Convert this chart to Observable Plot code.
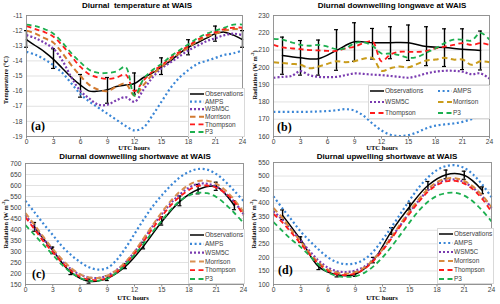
<!DOCTYPE html>
<html><head><meta charset="utf-8">
<script src="https://cdn.jsdelivr.net/npm/d3@7"></script>
<script src="https://cdn.jsdelivr.net/npm/@observablehq/plot@0.6"></script>
<style>
body{margin:0;background:#fff;}
#wrap{position:relative;width:500px;height:304px;overflow:hidden;font-family:"Liberation Sans",Arial,sans-serif;background:#fff;}
.panel{position:absolute;width:250px;height:152px;}
.title{position:absolute;font-weight:bold;font-size:8px;line-height:10px;white-space:nowrap;transform:translateX(-50%);color:#000}
.xl{position:absolute;font-family:"Liberation Serif",serif;font-weight:bold;font-size:6.6px;line-height:6px;transform:translateX(-50%);white-space:nowrap;color:#000}
.yl{position:absolute;font-family:"Liberation Serif",serif;font-weight:bold;font-size:6.3px;line-height:7px;white-space:nowrap;transform:translate(-50%,-50%) rotate(-90deg);color:#000}
.yl sup{font-size:4.5px;vertical-align:top;line-height:4px}
.letter{position:absolute;font-family:"Liberation Serif",serif;font-weight:bold;font-size:12px;line-height:12px;color:#000}
.leg{position:absolute;}
</style>
</head><body>
<div id="wrap"></div>
<script>
// ---------- shared ----------
const hours = [0,1,2,3,4,5,6,7,8,9,10,11,12,13,14,15,16,17,18,19,20,21,22,23,24];
const oddHours = [1,3,5,7,9,11,13,15,17,19,21,23];
const threeHours = [0,3,6,9,12,15,18,21,24];
const xTicks = [0,3,6,9,12,15,18,21,24];
const seriesNames = ["Observations","AMPS","WSM5C","Morrison","Thompson","P3"];

// ---------- (a) temperature ----------
const tempTicks = [-19,-18,-17,-16,-15,-14,-13,-12,-11];
const tempObs = [-12.6,-13.0,-13.4,-13.9,-14.5,-15.1,-15.6,-16.0,-16.0,-15.9,-15.7,-15.6,-15.5,-15.1,-14.8,-14.4,-14.0,-13.5,-13.1,-12.8,-12.5,-12.2,-12.1,-12.3,-12.6];
const tempBarHi = [-12.0,-13.2,-14.9,-15.1,-14.8,-13.8,-12.6,-11.7,-12.0];
const tempBarLo = [-13.1,-14.5,-16.4,-16.8,-16.2,-14.9,-13.6,-12.7,-13.1];
const tempAMPS = [-13.4,-13.6,-13.9,-14.3,-14.8,-15.5,-16.2,-16.7,-17.1,-17.5,-17.9,-18.3,-18.6,-18.4,-17.6,-16.7,-15.8,-15.1,-14.6,-14.2,-14.0,-13.8,-13.6,-13.5,-13.3];
const tempWSM5C = [-12.3,-12.5,-12.8,-13.2,-14.0,-15.1,-16.0,-16.5,-16.9,-16.9,-16.6,-16.4,-16.7,-15.9,-15.1,-14.5,-14.1,-13.7,-13.3,-13.0,-12.7,-12.5,-12.3,-12.2,-12.3];
const tempMorrison = [-12.0,-12.2,-12.5,-12.8,-13.5,-14.3,-15.0,-15.6,-15.9,-16.0,-15.7,-15.5,-16.3,-15.6,-14.9,-14.4,-13.9,-13.5,-13.1,-12.7,-12.4,-12.2,-12.0,-11.9,-11.9];
const tempThompson = [-11.7,-11.9,-12.1,-12.4,-13.0,-13.7,-14.4,-14.9,-15.1,-15.2,-15.1,-14.9,-16.0,-15.3,-14.7,-14.3,-13.8,-13.4,-13.0,-12.6,-12.3,-12.1,-11.9,-11.8,-11.8];
const tempP3 = [-11.6,-11.7,-11.9,-12.2,-12.8,-13.5,-14.1,-14.6,-14.8,-14.8,-14.7,-14.4,-16.3,-15.2,-14.6,-14.2,-13.7,-13.3,-12.9,-12.5,-12.2,-12.0,-11.8,-11.6,-11.6];

// ---------- (b) downwelling longwave ----------
const lwTicks = [160,170,180,190,200,210,220,230];
const lwObs = [206.8,205.5,205.0,209.8,214.8,214.2,214.3,214.2,212.0,211.5,210.5,209.8];
const lwBarHi = [217.5,215.5,215.8,221.8,225.8,222.5,223.5,224.5,223.5,222.3,222.3,221.0];
const lwBarLo = [196.0,195.5,195.5,198.3,203.5,204.8,205.0,204.0,201.0,200.5,198.7,198.5];
const lwAMPS = [174.2,174.2,174.2,174.3,174.3,174.5,174.7,175.2,175.8,175.0,172.0,167.5,163.5,161.0,160.3,160.8,162.5,164.8,166.3,167.0,167.5,168.5,170.0,172.0,174.0];
const lwWSM5C = [194.0,194.5,195.0,197.8,195.5,194.5,194.3,194.5,195.5,196.5,196.2,195.8,195.5,195.0,194.5,194.0,195.0,196.5,197.5,198.0,198.0,197.5,196.0,196.5,193.5];
const lwMorrison = [203.0,202.5,202.0,201.5,199.5,200.5,202.0,203.5,203.0,203.5,205.0,205.5,198.0,199.5,200.5,200.0,202.0,204.0,204.5,205.5,204.5,204.5,201.5,203.5,203.0];
const lwThompson = [213.0,211.5,211.0,210.5,210.0,209.8,209.5,209.5,211.0,212.0,214.0,215.0,203.5,207.5,209.0,209.0,209.0,209.5,211.0,212.0,213.0,214.0,213.0,214.0,213.0];
const lwP3 = [216.5,216.0,214.5,213.0,212.5,213.0,212.0,210.5,211.0,214.0,214.5,212.5,208.0,208.0,207.0,205.5,206.0,208.5,211.0,214.0,216.0,216.0,215.5,220.0,216.0];

// ---------- (c) downwelling shortwave ----------
const dswTicks = [150,200,250,300,350,400,450,500,550,600,650,700];
const dswObs = [410,305,205,165,178,232,325,435,528,582,595,508];
const dswBarHi = [432,320,215,175,190,245,342,458,552,605,615,530];
const dswBarLo = [392,290,195,156,168,222,312,420,508,562,578,490];
const dswAMPS = [530,478,425,375,325,285,252,228,218,225,260,315,380,445,505,555,600,637,662,675,672,652,618,575,530];
const dswWSM5C = [465,410,355,305,258,220,195,182,180,190,215,250,298,355,415,470,520,560,590,607,608,595,565,525,470];
const dswMorrison = [475,420,365,312,265,225,197,182,180,190,215,252,300,360,420,478,530,572,603,620,622,608,578,535,480];
const dswThompson = [455,400,345,297,250,212,185,172,170,180,205,242,290,345,405,460,510,550,580,598,600,590,565,525,465];
const dswP3 = [420,375,330,285,240,205,180,167,167,177,203,240,285,335,390,440,490,530,555,567,565,548,515,475,430];

// ---------- (d) upwelling shortwave ----------
const uswTicks = [100,150,200,250,300,350,400,450,500,550];
const uswObs = [355,265,165,136,138,190,297,388,465,505,503,447];
const uswBarHi = [375,276,175,145,147,200,310,400,480,522,518,460];
const uswBarLo = [340,255,155,128,130,180,285,375,450,490,488,435];
const uswAMPS = [425,380,338,295,260,228,200,182,175,178,193,222,265,312,362,412,458,495,522,537,540,530,505,468,422];
const uswWSM5C = [370,338,300,262,222,187,162,149,146,151,166,193,230,275,320,368,410,447,472,485,487,477,455,425,382];
const uswMorrison = [382,345,300,258,215,180,155,143,140,145,162,192,230,275,325,372,415,452,478,490,492,482,460,428,385];
const uswThompson = [360,328,290,250,210,175,150,137,135,140,157,187,225,270,317,362,405,442,467,480,482,472,450,415,368];
const uswP3 = [330,297,265,238,205,172,145,131,128,130,143,167,200,240,285,330,372,405,427,437,438,428,405,372,333];

// ---------- styles ----------
const baseStyles = {
  Observations: {stroke:"#000", strokeWidth:1.5, dash:null},
  AMPS: {stroke:"#3a86d6", strokeWidth:2.2, dash:"2 2.6"},
  WSM5C: {stroke:"#7a3cb0", strokeWidth:2.2, dash:"2 2"},
  Morrison: {stroke:"#d27a30", strokeWidth:2, dash:"5.5 3.5"},
  Thompson: {stroke:"#ff1a1a", strokeWidth:1.8, dash:"5 3.5"},
  P3: {stroke:"#1caf4f", strokeWidth:1.8, dash:"5 3.5"}
};

const panels = [
  {left:0, top:0, mL:26, mR:8, mT:15, mB:16, dom:[-19,-11], ticks:tempTicks,
   obsX:hours, obs:tempObs, barX:threeHours, hi:tempBarHi, lo:tempBarLo,
   models:{AMPS:tempAMPS, WSM5C:tempWSM5C, Morrison:tempMorrison, Thompson:tempThompson, P3:tempP3},
   morrisonColor:"#d27a30",
   title:"Diurnal\u00a0 temperature at WAIS", tx:137, ty:1, xlx:134, xly:145, ylx:5, yly:80, ylabel:"Temperature (°C)",
   letter:"(a)", lx:31, ly:120,
   legend:{x:188, y:88, w:57, h:49, cols:1}},
  {left:250, top:0, mL:23, mR:11, mT:15, mB:16, dom:[160,230], ticks:lwTicks,
   obsX:oddHours, obs:lwObs, barX:oddHours, hi:lwBarHi, lo:lwBarLo,
   models:{AMPS:lwAMPS, WSM5C:lwWSM5C, Morrison:lwMorrison, Thompson:lwThompson, P3:lwP3},
   morrisonColor:"#c99c1c",
   title:"Diurnal downwelling longwave at WAIS", tx:392, ty:1, xlx:382, xly:145, ylx:254, yly:75, ylabel:"Radiation (W m<sup>-2</sup>)",
   letter:"(b)", lx:277, ly:121,
   legend:{x:368, y:85, w:122, h:34, cols:2}},
  {left:0, top:152, mL:25, mR:7, mT:11, mB:20, dom:[150,700], ticks:dswTicks,
   obsX:oddHours, obs:dswObs, barX:oddHours, hi:dswBarHi, lo:dswBarLo,
   models:{AMPS:dswAMPS, WSM5C:dswWSM5C, Morrison:dswMorrison, Thompson:dswThompson, P3:dswP3},
   morrisonColor:"#d98f52",
   title:"Diurnal downwelling shortwave at WAIS", tx:135, ty:152, xlx:133, xly:295, ylx:5, yly:224, ylabel:"Radiation (W m<sup>-2</sup>)",
   letter:"(c)", lx:32, ly:268,
   legend:{x:188, y:229, w:57, h:55, cols:1}},
  {left:250, top:152, mL:23, mR:9, mT:10, mB:20, dom:[100,550], ticks:uswTicks,
   obsX:oddHours, obs:uswObs, barX:oddHours, hi:uswBarHi, lo:uswBarLo,
   models:{AMPS:uswAMPS, WSM5C:uswWSM5C, Morrison:uswMorrison, Thompson:uswThompson, P3:uswP3},
   morrisonColor:"#d88a40",
   title:"Diurnal upwelling shortwave at WAIS", tx:387, ty:152, xlx:382, xly:295, ylx:253, yly:224, ylabel:"Radiation (W m<sup>-2</sup>)",
   letter:"(d)", lx:278, ly:264,
   legend:{x:437, y:228, w:57, h:56, cols:1}}
];

const wrap = document.getElementById("wrap");
const pairs = (xs, ys) => ys.map((v,i) => ({x:xs[i], y:v}));
const barsOf = (xs, lo, hi) => xs.map((x,i) => ({x, lo:lo[i], hi:hi[i]}));

for (const p of panels) {
  const styles = {...baseStyles, Morrison:{...baseStyles.Morrison, stroke:p.morrisonColor}};
  const bars = barsOf(p.barX, p.lo, p.hi);
  const marks = [
    Plot.gridY(p.ticks, {stroke:"#d9d9d9", strokeOpacity:1, strokeWidth:0.8}),
    Plot.line(pairs(p.obsX, p.obs), {x:"x", y:"y", curve:"catmull-rom", stroke:"#000", strokeWidth:1.5}),
    Plot.ruleX(bars, {x:"x", y1:"lo", y2:"hi", stroke:"#000", strokeWidth:1.4}),
    Plot.ruleY(bars, {y:"hi", x1:d=>d.x-0.22, x2:d=>d.x+0.22, stroke:"#000", strokeWidth:1.2}),
    Plot.ruleY(bars, {y:"lo", x1:d=>d.x-0.22, x2:d=>d.x+0.22, stroke:"#000", strokeWidth:1.2}),
  ];
  for (const name of ["AMPS","WSM5C","Morrison","Thompson","P3"]) {
    const s = styles[name];
    marks.push(Plot.line(pairs(hours, p.models[name]), {
      x:"x", y:"y", curve:"catmull-rom",
      stroke:s.stroke, strokeWidth:s.strokeWidth, strokeDasharray:s.dash, strokeLinecap:"butt"
    }));
  }
  marks.push(Plot.frame({stroke:"#8c8c8c", strokeWidth:0.9}));
  marks.push(Plot.axisX(xTicks, {tickSize:2.5, tickPadding:0.5, label:null, stroke:"#8c8c8c", fill:"#404040", tickFormat:d=>String(d)}));
  marks.push(Plot.axisY(p.ticks, {tickSize:0, tickPadding:4, label:null, fill:"#404040", tickFormat:d=>String(d)}));
  const svg = Plot.plot({
    width:250, height:152,
    marginLeft:p.mL, marginRight:p.mR, marginTop:p.mT, marginBottom:p.mB,
    x:{domain:[0,24]}, y:{domain:p.dom},
    style:{fontSize:"6.7px", fontFamily:"'Liberation Sans', Arial, sans-serif", background:"transparent", overflow:"visible"},
    marks
  });
  // make sure dash patterns are applied on the drawn paths
  const div = document.createElement("div");
  div.className = "panel";
  div.style.left = p.left + "px"; div.style.top = p.top + "px";
  div.appendChild(svg);
  wrap.appendChild(div);

  const t = document.createElement("div"); t.className = "title"; t.textContent = p.title;
  t.style.left = p.tx + "px"; t.style.top = p.ty + "px"; wrap.appendChild(t);
  const xl = document.createElement("div"); xl.className = "xl"; xl.textContent = "UTC hours";
  xl.style.left = p.xlx + "px"; xl.style.top = p.xly + "px"; wrap.appendChild(xl);
  const yl = document.createElement("div"); yl.className = "yl"; yl.innerHTML = p.ylabel;
  yl.style.left = p.ylx + "px"; yl.style.top = p.yly + "px"; wrap.appendChild(yl);

  // legend
  const L = p.legend;
  const lsvg = d3.create("svg").attr("class","leg").attr("width", L.w).attr("height", L.h)
    .style("left", L.x + "px").style("top", L.y + "px");
  lsvg.append("rect").attr("x",0.5).attr("y",0.5).attr("width",L.w-1).attr("height",L.h-1)
    .attr("fill","#fff").attr("stroke","#d9d9d9");
  seriesNames.forEach((name, i) => {
    let lx0, ly;
    if (L.cols === 1) { lx0 = 2; ly = 6 + i * (L.h - 11) / 5; }
    else { lx0 = (i % 2) ? 70 : 2; ly = 6 + Math.floor(i/2) * 11; }
    const s = styles[name];
    lsvg.append("line").attr("x1", lx0).attr("x2", lx0 + 14).attr("y1", ly).attr("y2", ly)
      .attr("stroke", s.stroke).attr("stroke-width", s.strokeWidth)
      .style("stroke-dasharray", s.dash || "none");
    lsvg.append("text").attr("x", lx0 + 15).attr("y", ly).attr("dy","0.35em")
      .attr("font-size","6.5px").attr("fill","#404040")
      .attr("font-family","'Liberation Sans', Arial, sans-serif").text(name);
  });
  wrap.appendChild(lsvg.node());

  const le = document.createElement("div"); le.className = "letter"; le.textContent = p.letter;
  le.style.left = p.lx + "px"; le.style.top = p.ly + "px"; wrap.appendChild(le);
}
</script>
</body></html>
